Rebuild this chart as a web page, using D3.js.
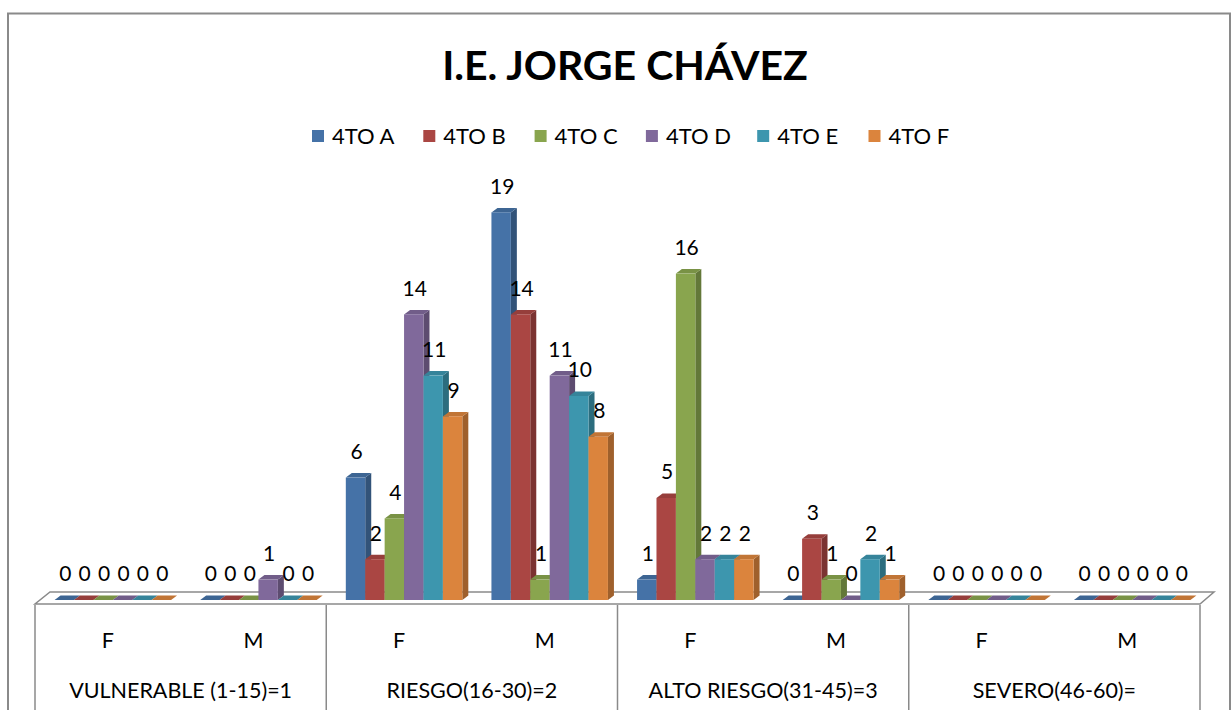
<!DOCTYPE html>
<html>
<head>
<meta charset="utf-8">
<script src="https://cdn.jsdelivr.net/npm/d3@7"></script>
<style>
  body { margin: 0; background: #fff; }
  text { font-family: Lato, "Open Sans", sans-serif; fill: #000; }
</style>
</head>
<body>
<div id="chart"></div>
<script>
// data
const groups = ["VULNERABLE (1-15)=1", "RIESGO(16-30)=2", "ALTO RIESGO(31-45)=3", "SEVERO(46-60)="];
const sexes = ["F", "M"];
const seriesNames = ["4TO A", "4TO B", "4TO C", "4TO D", "4TO E", "4TO F"];
const seriesA = [0, 0, 6, 19, 1, 0, 0, 0];
const seriesB = [0, 0, 2, 14, 5, 3, 0, 0];
const seriesC = [0, 0, 4, 1, 16, 1, 0, 0];
const seriesD = [0, 1, 14, 11, 2, 0, 0, 0];
const seriesE = [0, 0, 11, 10, 2, 2, 0, 0];
const seriesF = [0, 0, 9, 8, 2, 1, 0, 0];
const allSeries = [seriesA, seriesB, seriesC, seriesD, seriesE, seriesF];
const colors = ["#4572A7", "#AA4643", "#89A54E", "#80699B", "#3D96AE", "#DB843D"];

const width = 1231, height = 710;
const svg = d3.select("#chart").append("svg")
  .attr("width", width)
  .attr("height", height);

// outer border
svg.append("rect")
  .attr("x", 8).attr("y", 13.5)
  .attr("width", 1222).attr("height", 720)
  .attr("fill", "none").attr("stroke", "#8a8a8a").attr("stroke-width", 2);

// title
svg.append("text")
  .attr("x", 625).attr("y", 80)
  .attr("text-anchor", "middle")
  .style("font-size", "41px").style("font-weight", "bold")
  .text("I.E. JORGE CHÁVEZ");

// legend
const legend = svg.append("g").attr("transform", "translate(312,136)");
seriesNames.forEach(function(name, i) {
  const g = legend.append("g").attr("transform", `translate(${i * 111.3},0)`);
  g.append("rect").attr("x", 0).attr("y", -6).attr("width", 12).attr("height", 12)
    .attr("fill", colors[i]);
  g.append("text").attr("x", 20).attr("y", 0).attr("dy", "0.35em")
    .style("font-size", "22px").text(name);
});

// scales
const subcats = [];
groups.forEach(g => sexes.forEach(s => subcats.push(g + "|" + s)));

const x0 = d3.scaleBand().domain(subcats).range([35, 1200]).paddingInner(0.2).paddingOuter(0.1);
const x1 = d3.scaleBand().domain(seriesNames).range([0, x0.bandwidth()]);
const y = d3.scaleLinear().domain([0, 20]).range([600, 192]);

const shift = 5, dx = 6, dy = 4.5;

// floor
svg.append("path")
  .attr("d", "M35,604 L1200,604 L1214,592 L50,592 Z")
  .attr("fill", "#fff").attr("stroke", "#8a8a8a").attr("stroke-width", 1.5);

// table lines
const xg = d3.scaleBand().domain(groups).range([35, 1200]);
const bounds = groups.map(g => xg(g)).concat([1200]);
svg.selectAll(".vline").data(bounds).join("line")
  .attr("x1", d => d).attr("x2", d => d)
  .attr("y1", 605).attr("y2", height)
  .attr("stroke", "#8a8a8a").attr("stroke-width", 1.5);

// bars
const bars = svg.append("g");
subcats.forEach(function(sc, ci) {
  seriesNames.forEach(function(name, si) {
    const v = allSeries[si][ci];
    const xl = x0(sc) + x1(name) + shift;
    const w = x1.bandwidth();
    const yt = y(v), yb = y(0);
    const c = d3.color(colors[si]);
    // side
    bars.append("path")
      .attr("d", `M${xl + w},${yt} L${xl + w + dx},${yt - dy} L${xl + w + dx},${yb - dy} L${xl + w},${yb} Z`)
      .attr("fill", c.darker(0.9));
    // top
    bars.append("path")
      .attr("d", `M${xl},${yt} L${xl + dx},${yt - dy} L${xl + w + dx},${yt - dy} L${xl + w},${yt} Z`)
      .attr("fill", c.darker(0.35));
    // front
    bars.append("rect")
      .attr("x", xl).attr("y", yt)
      .attr("width", w).attr("height", yb - yt)
      .attr("fill", c);
  });
});

// value labels
const labels = svg.append("g");
subcats.forEach(function(sc, ci) {
  seriesNames.forEach(function(name, si) {
    const v = allSeries[si][ci];
    labels.append("text")
      .attr("x", x0(sc) + x1(name) + shift + x1.bandwidth() / 2 + 1)
      .attr("y", y(v) - 26)
      .attr("dy", "0.35em")
      .attr("text-anchor", "middle")
      .style("font-size", "21px")
      .text(v);
  });
});

// category labels
const xs = d3.scaleBand().domain(subcats).range([35, 1200]);
svg.selectAll(".sex").data(subcats).join("text")
  .attr("x", d => xs(d) + xs.bandwidth() / 2)
  .attr("y", 640).attr("dy", "0.35em")
  .attr("text-anchor", "middle")
  .style("font-size", "21.5px")
  .text(d => d.split("|")[1]);

svg.selectAll(".grp").data(groups).join("text")
  .attr("x", d => xg(d) + xg.bandwidth() / 2)
  .attr("y", 690).attr("dy", "0.35em")
  .attr("text-anchor", "middle")
  .style("font-size", "21.5px")
  .text(d => d);
</script>
</body>
</html>
